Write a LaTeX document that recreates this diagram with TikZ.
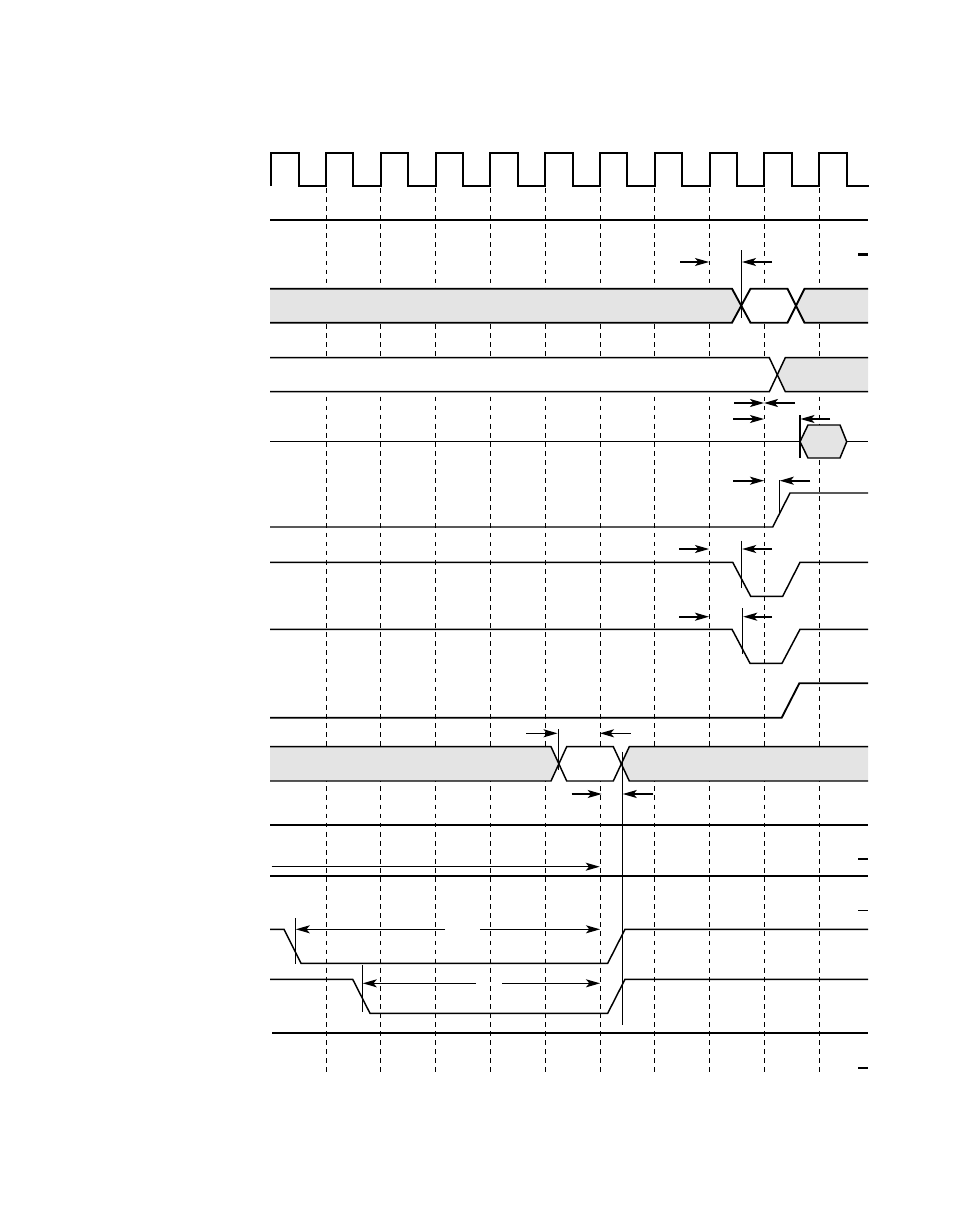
\documentclass[tikz,border=0pt]{standalone}
\usetikzlibrary{arrows.meta}
\definecolor{busgray}{RGB}{228,228,228}
\begin{document}
\begin{tikzpicture}[x=0.75pt,y=-0.75pt,
  sig/.style={line width=1.1pt,line join=miter},
  thk/.style={line width=1.6pt},
  marker/.style={line width=0.8pt},
  grid/.style={line width=0.75pt,dash pattern=on 3.6pt off 3.2pt},
  arr/.style={line width=0.9pt,-{Stealth[length=10.5pt,width=6pt,inset=2.5pt]}},
  tarr/.style={line width=1.4pt,-{Stealth[length=10.5pt,width=6pt,inset=2.5pt]}},
  busfill/.style={fill=busgray,draw=none},
  whitefill/.style={fill=white,draw=none}]
\useasboundingbox (0,0) rectangle (954,1227);
% grid lines
\foreach \k in {0,...,9}{
  \draw[grid] ({326+54.8*\k},188) -- ({326+54.8*\k},1075);
}
% clock
\draw[line width=1.4pt]
  (271.2,186) \foreach \k in {0,...,10}{
    -- ({271.2+54.8*\k},153) -- ({298.6+54.8*\k},153) -- ({298.6+54.8*\k},186)
    -- ({326+54.8*\k},186)} ;
\fill[white] (868.5,180) rectangle (900,190);
% line 220
\draw[thk] (270,220) -- (868,220);
% row 4 bus
\fill[busfill] (270,288.7) -- (732,288.7) -- (741.3,305.7) -- (732,322.7) -- (270,322.7) -- cycle;
\fill[whitefill] (741.3,305.7) -- (750.5,288.7) -- (787.5,288.7) -- (796,305.7) -- (787.5,322.7) -- (750.5,322.7) -- cycle;
\fill[busfill] (796,305.7) -- (804.5,288.7) -- (868,288.7) -- (868,322.7) -- (804.5,322.7) -- cycle;
\draw[line width=1.4pt] (270,288.7) -- (732,288.7) -- (750.5,322.7) -- (787.5,322.7) -- (804.5,288.7) -- (868,288.7);
\draw[line width=1.4pt] (270,322.7) -- (732,322.7) -- (750.5,288.7) -- (787.5,288.7) -- (804.5,322.7) -- (868,322.7);
% row 5 bus
\fill[whitefill] (270,357.7) -- (769.3,357.7) -- (777.3,374.7) -- (769.3,391.7) -- (270,391.7) -- cycle;
\fill[busfill] (777.3,374.7) -- (785.3,357.7) -- (868,357.7) -- (868,391.7) -- (785.3,391.7) -- cycle;
\draw[sig] (270,357.7) -- (769.3,357.7) -- (785.3,391.7) -- (868,391.7);
\draw[sig] (270,391.7) -- (769.3,391.7) -- (785.3,357.7) -- (868,357.7);
% row 8 hexagon
\draw[sig] (270,441.7) -- (800,441.7);
\draw[sig] (846.7,441.7) -- (868,441.7);
\draw[sig,fill=busgray] (800,441.7) -- (808,425) -- (840,425) -- (846.7,441.7) -- (840,458) -- (808,458) -- cycle;
% row 9
\draw[sig] (270,527) -- (772.7,527) -- (790,493) -- (868,493);
% row 10
\draw[sig] (270,562.3) -- (732.7,562.3) -- (750.7,596.3) -- (782.7,596.3) -- (800,562.3) -- (868,562.3);
% row 11
\draw[sig] (270,629.3) -- (732,629.3) -- (750,663.3) -- (782,663.3) -- (800,629.3) -- (868,629.3);
% row 12
\draw[line width=1.4pt] (270,717.7) -- (781.7,717.7) -- (799.3,683.3) -- (868,683.3);
% row 13 bus
\fill[busfill] (270,746.7) -- (551,746.7) -- (559,763.8) -- (551,781) -- (270,781) -- cycle;
\fill[whitefill] (559,763.8) -- (566.7,746.7) -- (613.3,746.7) -- (621.7,763.8) -- (613.3,781) -- (566.7,781) -- cycle;
\fill[busfill] (621.7,763.8) -- (629.3,746.7) -- (868,746.7) -- (868,781) -- (629.3,781) -- cycle;
\draw[sig] (270,746.7) -- (551,746.7) -- (566.7,781) -- (613.3,781) -- (629.3,746.7) -- (868,746.7);
\draw[sig] (270,781) -- (551,781) -- (566.7,746.7) -- (613.3,746.7) -- (629.3,781) -- (868,781);
% horizontal lines
\draw[thk] (270,825) -- (868,825);
\draw[sig] (270,876) -- (868,876);
\draw[thk] (272,1033.3) -- (868,1033.3);
% rows 17, 18
\draw[sig] (270,929.3) -- (284,929.3) -- (301,963.3) -- (607.7,963.3) -- (625,929.3) -- (868,929.3);
\draw[sig] (270,979.3) -- (352.7,979.3) -- (370,1013.3) -- (607.7,1013.3) -- (625,979.3) -- (868,979.3);
% markers
\draw[marker] (741.3,250) -- (741.3,318);
\draw[marker] (800,415) -- (800,458);
\draw[marker] (779.3,480) -- (779.3,513);
\draw[marker] (741.7,540.7) -- (741.7,587.7);
\draw[marker] (742.7,608) -- (742.7,654);
\draw[marker] (558.3,729.3) -- (558.3,770);
\draw[marker] (622.3,751.7) -- (622.3,1025);
\draw[marker] (295.3,918.3) -- (295.3,964.3);
\draw[marker] (362.3,965) -- (362.3,1011.7);
% arrows
\draw[arr] (680,262) -- (709,262);
\draw[arr] (772,262) -- (742,262);
\draw[tarr] (734,403) -- (764,403);
\draw[tarr] (795,403) -- (764,403);
\draw[arr] (733,419) -- (764,419);
\draw[arr] (830,419) -- (800.5,419);
\draw[tarr] (733,480.7) -- (764,480.7);
\draw[tarr] (810,480.7) -- (779.8,480.7);
\draw[arr] (679,549) -- (709,549);
\draw[arr] (772,549) -- (742.2,549);
\draw[tarr] (679,616.7) -- (709,616.7);
\draw[tarr] (772,616.7) -- (743.2,616.7);
\draw[arr] (526,733.3) -- (557.5,733.3);
\draw[arr] (630.7,733.3) -- (600,733.3);
\draw[arr] (571.7,794) -- (601.7,794);
\draw[arr] (653.3,794) -- (622.8,794);
\draw[arr] (271.7,866.7) -- (599.7,866.7);
\draw[arr] (445,929.3) -- (295.8,929.3);
\draw[arr] (480,929.3) -- (600,929.3);
\draw[arr] (476,983.3) -- (362.8,983.3);
\draw[arr] (502.3,983.3) -- (600,983.3);
% small right-side bars
\draw[line width=1.6pt] (858,254.5) -- (868,254.5);
\draw[line width=1.6pt] (858,859) -- (868,859);
\draw[line width=0.8pt] (858,910.5) -- (868,910.5);
\draw[line width=1.6pt] (858,1067.7) -- (868,1067.7);
\end{tikzpicture}
\end{document}
